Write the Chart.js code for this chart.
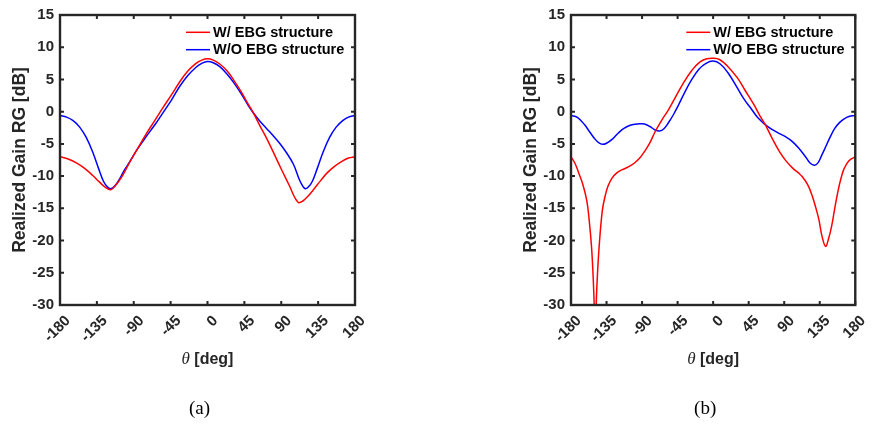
<!DOCTYPE html>
<html>
<head>
<meta charset="utf-8">
<script src="https://cdn.jsdelivr.net/npm/chart.js@4/dist/chart.umd.min.js"></script>
<style>
  html, body { margin: 0; padding: 0; background: #ffffff; }
  #wrap { position: relative; width: 875px; height: 424px; overflow: hidden; }
  canvas { position: absolute; top: 0; }
</style>
</head>
<body>
<div id="wrap">
  <canvas id="chartA" width="440" height="424" style="left:0px;width:440px;height:424px"></canvas>
  <canvas id="chartB" width="435" height="424" style="left:440px;width:435px;height:424px"></canvas>
</div>
<script>
// Tick values shared by both panels
const thetaTicks = [-180, -135, -90, -45, 0, 45, 90, 135, 180];
const gainTicks = [-30, -25, -20, -15, -10, -5, 0, 5, 10, 15];

const seriesNames = ['W/ EBG structure', 'W/O EBG structure'];

// Panel (a): realized gain [dB] versus theta [deg]
const angA_w = [-180,-170,-160,-150,-140,-132,-125,-118,-112,-105,-96,-86,-75,-64,-54,-44,-34,-24,-14,-7,0,7,15,24,32,41,50,56,64,72,80,90,100,106,111,116,122,130,138,146,155,163,172,180];
const gainA_w = [-7.0,-7.35,-7.95,-8.8,-9.9,-10.9,-11.7,-12.1,-11.4,-10.2,-8.1,-5.9,-3.5,-1.3,0.7,2.6,4.6,6.3,7.5,8.0,8.2,8.0,7.4,6.3,4.9,3.1,1.1,-0.2,-2.2,-4.1,-6.2,-8.9,-11.5,-13.2,-14.1,-13.9,-13.2,-12.0,-10.7,-9.5,-8.5,-7.8,-7.2,-7.0];
const angA_wo = [-180,-172,-164,-156,-148,-140,-133,-127,-122,-118,-113,-108,-102,-95,-86,-75,-64,-54,-44,-34,-24,-14,-7,0,7,15,24,32,41,50,56,64,72,80,88,96,105,113,119,123,128,134,141,149,157,165,172,180];
const gainA_wo = [-0.6,-0.85,-1.4,-2.4,-4.0,-6.3,-8.8,-10.8,-11.7,-11.95,-11.5,-10.6,-9.2,-7.8,-5.9,-3.9,-2.0,-0.1,1.8,3.9,5.6,6.9,7.5,7.8,7.6,7.0,5.8,4.5,2.8,0.9,-0.2,-1.5,-2.6,-3.7,-4.9,-6.3,-8.2,-10.8,-11.95,-11.7,-10.8,-8.8,-6.3,-4.0,-2.4,-1.4,-0.85,-0.6];

// Panel (b)
const angB_w = [-180,-175,-170,-165,-160,-157,-154,-152,-150.6,-149.4,-148.1,-147,-144.5,-140.5,-137,-133,-128,-122,-115,-108,-100,-93,-87,-80,-73,-65,-57,-47,-37,-27,-17,-8,0,8,18,31,40,52,60,66,75,84,92,101,108,113,120,125,130,134,138,142.4,146,150,154,158,162,166,172,180];
const gainB_w = [-7.0,-8.0,-9.6,-11.3,-13.8,-16.8,-21.0,-25.5,-30,-34,-30,-26.5,-21.2,-15.5,-13.2,-11.5,-10.3,-9.5,-9.0,-8.6,-8.0,-7.2,-6.2,-4.8,-3.0,-1.3,0.2,2.4,4.6,6.4,7.7,8.2,8.3,8.1,7.1,5.2,3.4,1.0,-0.8,-2.0,-4.2,-6.2,-7.6,-8.8,-9.5,-10.1,-11.4,-12.9,-14.9,-16.8,-19.4,-20.9,-19.8,-17.8,-15.0,-12.4,-10.3,-8.8,-7.6,-7.0];
const angB_wo = [-180,-172,-163,-156,-150,-145,-140,-135,-128,-120,-113,-105,-95,-87,-80,-74,-68,-62,-56,-50,-44,-36,-27,-18,-9,0,9,19,31,40,48,57,66,75,84,92,100,108,117,123,128.5,133,137,141.6,148,154,160,166,172,180];
const gainB_wo = [-0.6,-0.9,-2.0,-3.2,-4.2,-4.8,-5.07,-4.9,-4.3,-3.3,-2.6,-2.1,-1.9,-1.9,-2.3,-2.8,-3.0,-2.6,-1.6,-0.4,1.0,3.0,5.0,6.6,7.5,7.85,7.4,6.0,3.6,1.8,0.5,-1.0,-2.0,-2.8,-3.4,-3.9,-4.6,-5.6,-7.0,-8.0,-8.3,-7.9,-6.9,-5.7,-4.0,-2.6,-1.7,-1.1,-0.75,-0.6];

const SANS = '"Liberation Sans", Arial, Helvetica, sans-serif';
const SERIF = '"Liberation Serif", "Times New Roman", serif';
const AXIS_COLOR = '#262626';
const LINE_COLORS = ['#ff0000', '#0000ff'];

function toPoints(xs, ys) {
  return xs.map((x, i) => ({ x: x, y: ys[i] }));
}

// Draws the boxed axes with inward ticks, the legend, axis titles and the caption
const decorations = {
  id: 'decorations',
  afterDraw(chart, args, opts) {
    const ctx = chart.ctx;
    const a = chart.chartArea;
    const xs = chart.scales.x;
    const ys = chart.scales.y;
    ctx.save();

    // box
    ctx.strokeStyle = AXIS_COLOR;
    ctx.lineWidth = 2.4;
    ctx.strokeRect(a.left, a.top, a.right - a.left, a.bottom - a.top);

    // inward ticks on all four sides
    const tl = 4;
    ctx.lineWidth = 2;
    ctx.beginPath();
    xs.ticks.forEach(t => {
      const px = xs.getPixelForValue(t.value);
      ctx.moveTo(px, a.bottom); ctx.lineTo(px, a.bottom - tl);
      ctx.moveTo(px, a.top); ctx.lineTo(px, a.top + tl);
    });
    ys.ticks.forEach(t => {
      const py = ys.getPixelForValue(t.value);
      ctx.moveTo(a.left, py); ctx.lineTo(a.left + tl, py);
      ctx.moveTo(a.right, py); ctx.lineTo(a.right - tl, py);
    });
    ctx.stroke();

    // legend
    const rows = [a.top + 17.3, a.top + 34.7];
    chart.data.datasets.forEach((ds, i) => {
      const y = rows[i];
      ctx.strokeStyle = ds.borderColor;
      ctx.lineWidth = 1.5;
      ctx.beginPath();
      ctx.moveTo(a.right - 169, y);
      ctx.lineTo(a.right - 145, y);
      ctx.stroke();
      ctx.fillStyle = '#000000';
      ctx.font = 'bold 14.5px ' + SANS;
      ctx.textAlign = 'left';
      ctx.textBaseline = 'middle';
      ctx.fillText(ds.label, a.right - 142, y + 0.5);
    });

    // y-axis title
    ctx.fillStyle = AXIS_COLOR;
    ctx.font = 'bold 17.5px ' + SANS;
    ctx.textAlign = 'center';
    ctx.textBaseline = 'middle';
    ctx.save();
    ctx.translate(a.left - 40, (a.top + a.bottom) / 2);
    ctx.rotate(-Math.PI / 2);
    ctx.fillText('Realized Gain RG [dB]', 0, 0);
    ctx.restore();

    // x-axis title: italic theta followed by the unit
    const cx = (a.left + a.right) / 2;
    const ty = 360;
    ctx.font = 'italic 17px ' + SERIF;
    const wTheta = ctx.measureText('θ').width;
    ctx.font = 'bold 16px ' + SANS;
    const wUnit = ctx.measureText(' [deg]').width;
    const x0 = cx - (wTheta + wUnit) / 2;
    ctx.textAlign = 'left';
    ctx.font = 'italic 17px ' + SERIF;
    ctx.fillText('θ', x0, ty);
    ctx.font = 'bold 16px ' + SANS;
    ctx.fillText(' [deg]', x0 + wTheta, ty);

    // caption
    ctx.fillStyle = '#000000';
    ctx.font = '19px ' + SERIF;
    ctx.textAlign = 'center';
    ctx.fillText(opts.caption, cx - 8, 409);

    ctx.restore();
  }
};

function makePanel(canvasId, angW, gainW, angWO, gainWO, caption, padLeft, padRight) {
  const tickFont = { family: SANS, size: 15, weight: 'bold' };
  const lineStyle = { borderWidth: 1.5, pointRadius: 0, tension: 0.4, fill: false };
  return new Chart(document.getElementById(canvasId), {
    type: 'line',
    data: {
      datasets: [
        Object.assign({ label: seriesNames[0], data: toPoints(angW, gainW), borderColor: LINE_COLORS[0] }, lineStyle),
        Object.assign({ label: seriesNames[1], data: toPoints(angWO, gainWO), borderColor: LINE_COLORS[1] }, lineStyle)
      ]
    },
    options: {
      responsive: false,
      devicePixelRatio: 1,
      animation: false,
      events: [],
      layout: { padding: { left: padLeft, right: padRight, top: 13, bottom: 0 } },
      plugins: {
        legend: { display: false },
        tooltip: { enabled: false },
        decorations: { caption: caption }
      },
      scales: {
        x: {
          type: 'linear',
          min: -180,
          max: 180,
          grid: { display: false, drawTicks: false },
          border: { display: false },
          afterBuildTicks: s => { s.ticks = thetaTicks.map(v => ({ value: v })); },
          afterFit: s => { s.height = 119; },
          ticks: {
            autoSkip: false,
            maxRotation: 45,
            minRotation: 45,
            padding: 7,
            labelOffset: 8,
            color: AXIS_COLOR,
            font: tickFont
          }
        },
        y: {
          type: 'linear',
          min: -30,
          max: 15,
          grid: { display: false, drawTicks: false },
          border: { display: false },
          afterBuildTicks: s => { s.ticks = gainTicks.map(v => ({ value: v })); },
          afterFit: s => { s.width = 60; },
          ticks: {
            padding: 6,
            color: AXIS_COLOR,
            font: tickFont
          }
        }
      }
    },
    plugins: [decorations]
  });
}

makePanel('chartA', angA_w, gainA_w, angA_wo, gainA_wo, '(a)', 0, 85);
makePanel('chartB', angB_w, gainB_w, angB_wo, gainB_wo, '(b)', 71, 10);
</script>
</body>
</html>
